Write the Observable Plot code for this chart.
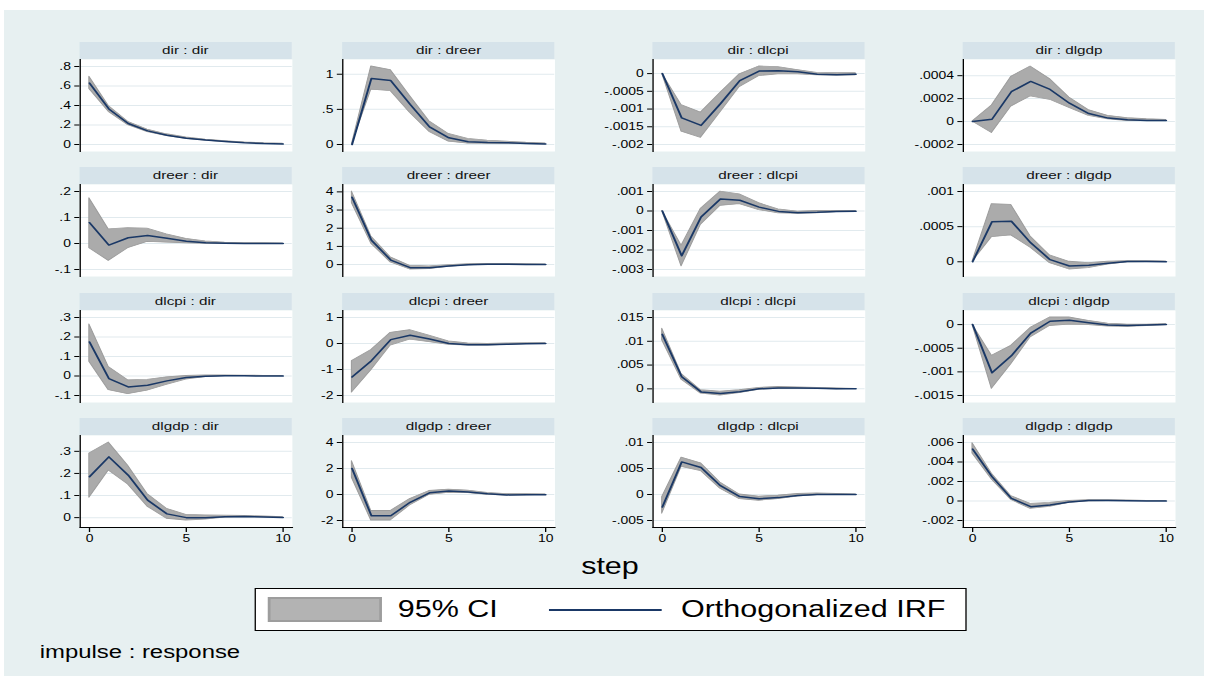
<!DOCTYPE html>
<html>
<head>
<meta charset="utf-8">
<script src="https://cdn.jsdelivr.net/npm/d3@7"></script>
<script src="https://cdn.jsdelivr.net/npm/@observablehq/plot@0.6"></script>
<style>
  html, body { margin: 0; padding: 0; background: #ffffff; overflow: hidden; }
  body { font-family: "Liberation Sans", Arial, sans-serif; color: #000; }
  #page { position: absolute; left: 0; top: 0; width: 911px; height: 683px; transform-origin: 0 0; }
  #bg { position: absolute; left: 3px; top: 9.5px; width: 905px; height: 666px; background: #e7f0f1; }
  .strip { position: absolute; height: 17px; line-height: 17px; background: #d6e3ea; text-align: center; font-size: 11.5px; color: #111; white-space: nowrap; }
  .panel { position: absolute; }
  .panel svg { display: block; overflow: visible; }
  #step { position: absolute; left: 360px; width: 200px; top: 553px; text-align: center; font-size: 23px; line-height: 26px; }
  #legend { position: absolute; left: 191.5px; top: 588px; width: 535px; height: 41px; border: 1.5px solid #000; background: #fff; }
  #legend .swatch { position: absolute; left: 9px; top: 8px; width: 82px; height: 21px; background: #b3b3b3; border: 2px solid #9d9d9d; }
  #legend .lbl { position: absolute; top: 0; height: 41px; line-height: 41px; font-size: 23px; white-space: nowrap; }
  #legend .line { position: absolute; left: 221.5px; top: 19.5px; width: 84.5px; height: 2px; background: #1a3866; }
  #note { position: absolute; left: 30px; top: 641px; font-size: 18px; line-height: 22px; white-space: nowrap; }
</style>
</head>
<body>
<div id="page">
  <div id="bg"></div>
  <div id="step">step</div>
  <div id="legend">
    <div class="swatch"></div>
    <div class="lbl" style="left:107.5px">95% CI</div>
    <div class="line"></div>
    <div class="lbl" style="left:321px">Orthogonalized IRF</div>
  </div>
  <div id="note">impulse : response</div>
</div>
<script>
// ---------------- data ----------------
const variables = ["dir", "dreer", "dlcpi", "dlgdp"];
const steps = [0, 1, 2, 3, 4, 5, 6, 7, 8, 9, 10];

// panel titles, row = impulse, column = response
const panelTitles = [
  "dir : dir", "dir : dreer", "dir : dlcpi", "dir : dlgdp",
  "dreer : dir", "dreer : dreer", "dreer : dlcpi", "dreer : dlgdp",
  "dlcpi : dir", "dlcpi : dreer", "dlcpi : dlcpi", "dlcpi : dlgdp",
  "dlgdp : dir", "dlgdp : dreer", "dlgdp : dlcpi", "dlgdp : dlgdp"
];

// Orthogonalized IRF, steps 0..10
const irfValues = [
  [0.63, 0.365, 0.215, 0.14, 0.095, 0.065, 0.045, 0.03, 0.018, 0.01, 0.006],
  [0, 0.94, 0.91, 0.57, 0.25, 0.095, 0.04, 0.03, 0.025, 0.015, 0.008],
  [0, -0.00125, -0.00146, -0.00085, -0.0002, 0.00007, 0.00008, 0.00005, -0.00002, -0.00003, -0.00002],
  [0, 0.00002, 0.00026, 0.00035, 0.00028, 0.00016, 0.00007, 0.00003, 0.000015, 0.00001, 0.00001],
  [0.08, -0.006, 0.022, 0.031, 0.02, 0.009, 0.003, 0.001, 0, 0, 0],
  [3.7, 1.34, 0.25, -0.17, -0.17, -0.08, -0.01, 0.02, 0.02, 0.01, 0],
  [0, -0.0023, -0.00031, 0.00062, 0.00055, 0.0002, -0.00002, -0.00009, -0.00007, -0.00003, -0.00001],
  [0, 0.00057, 0.000577, 0.00027, 0.00003, -0.00006, -0.00005, -0.00002, 0.000005, 0.000005, 0],
  [0.174, -0.013, -0.056, -0.047, -0.025, -0.008, -0.001, 0.001, 0.001, 0, 0],
  [-1.29, -0.66, 0.15, 0.32, 0.17, 0, -0.05, -0.05, -0.03, -0.01, 0],
  [0.01145, 0.00256, -0.00064, -0.001, -0.0006, 0, 0.0002, 0.0002, 0.0001, 0, 0],
  [0, -0.00102, -0.00066, -0.00018, 0.00007, 0.00009, 0.00004, -0.00001, -0.00002, -0.00001, 0],
  [0.185, 0.275, 0.192, 0.079, 0.017, 0, -0.001, 0.004, 0.005, 0.003, 0.001],
  [2.0, -1.64, -1.64, -0.6, 0.13, 0.26, 0.2, 0.05, -0.03, -0.02, -0.01],
  [-0.0024, 0.00627, 0.0052, 0.0017, -0.0004, -0.0008, -0.0006, -0.0002, 0, 0, 0],
  [0.00532, 0.0025, 0.00027, -0.00058, -0.0004, -0.0001, 0.00005, 0.00005, 0.00003, 0, 0]
];

// 95% CI lower bound
const ciLower = [
  [0.57, 0.335, 0.198, 0.127, 0.086, 0.058, 0.039, 0.025, 0.015, 0.008, 0.004],
  [0, 0.78, 0.76, 0.45, 0.18, 0.04, 0.012, 0.01, 0.01, 0.005, 0.002],
  [0, -0.00164, -0.00181, -0.0011, -0.00038, -0.00007, -0.00002, -0.00002, -0.00005, -0.00006, -0.00005],
  [0, -0.0001, 0.00013, 0.00022, 0.00019, 0.00012, 0.00005, 0.00002, 0.000005, 0.000005, 0.000005],
  [-0.018, -0.067, -0.018, 0.006, 0.003, 0.001, -0.001, -0.001, -0.001, 0, 0],
  [3.38, 1.15, 0.12, -0.27, -0.25, -0.13, -0.04, 0, 0, 0, -0.01],
  [0, -0.00284, -0.0007, 0.00026, 0.00035, 0.00005, -0.00012, -0.00014, -0.00012, -0.00006, -0.00003],
  [0, 0.00035, 0.000375, 0.0002, -0.00002, -0.00011, -0.00009, -0.00004, -0.00001, -0.000005, -0.000005],
  [0.073, -0.073, -0.093, -0.075, -0.045, -0.018, -0.006, -0.001, -0.001, -0.001, 0],
  [-1.89, -1.03, -0.08, 0.15, 0.05, -0.05, -0.08, -0.08, -0.05, -0.02, -0.01],
  [0.0102, 0.0019, -0.001, -0.0014, -0.0009, -0.0002, 0, 0, 0, -0.0001, 0],
  [0, -0.00136, -0.00084, -0.00027, -0.00003, 0, -0.00001, -0.00004, -0.00005, -0.00003, -0.00001],
  [0.09, 0.213, 0.15, 0.05, -0.005, -0.013, -0.009, 0, 0.002, 0.001, 0],
  [1.27, -2.0, -2.0, -0.85, -0.03, 0.12, 0.1, -0.03, -0.09, -0.06, -0.03],
  [-0.0037, 0.0053, 0.0045, 0.0011, -0.0009, -0.0012, -0.0009, -0.0004, -0.0001, -0.0001, -0.0001],
  [0.00487, 0.0022, 0.0001, -0.0008, -0.0006, -0.0002, -0.00003, 0, 0, 0, 0]
];

// 95% CI upper bound
const ciUpper = [
  [0.695, 0.395, 0.233, 0.153, 0.105, 0.073, 0.051, 0.035, 0.022, 0.013, 0.008],
  [0, 1.11, 1.06, 0.69, 0.33, 0.15, 0.08, 0.055, 0.04, 0.025, 0.015],
  [0, -0.00089, -0.0011, -0.00055, -0.00002, 0.0002, 0.00018, 0.0001, 0.00002, 0.00001, 0.00001],
  [0, 0.00014, 0.00039, 0.00048, 0.00037, 0.00021, 0.0001, 0.00005, 0.00003, 0.00002, 0.000015],
  [0.174, 0.054, 0.059, 0.057, 0.035, 0.018, 0.008, 0.003, 0.001, 0.001, 0],
  [4.02, 1.55, 0.4, -0.07, -0.1, -0.03, 0.02, 0.04, 0.04, 0.02, 0.01],
  [0, -0.00178, 0.00012, 0.00099, 0.00085, 0.0004, 0.00008, -0.00003, 0, 0, 0],
  [0, 0.00082, 0.00081, 0.00036, 0.00009, 0, -0.00002, 0, 0.00001, 0.00001, 0.000005],
  [0.265, 0.046, -0.022, -0.02, -0.007, 0, 0.003, 0.003, 0.002, 0.001, 0],
  [-0.68, -0.25, 0.41, 0.51, 0.3, 0.08, 0, -0.02, 0, 0.01, 0.01],
  [0.01266, 0.0031, -0.0003, -0.0006, -0.0003, 0.0002, 0.0004, 0.0003, 0.0002, 0.0001, 0],
  [0, -0.00066, -0.00045, -0.00007, 0.00015, 0.00015, 0.00008, 0.00002, 0, 0, 0.00001],
  [0.29, 0.34, 0.235, 0.107, 0.04, 0.012, 0.01, 0.009, 0.008, 0.005, 0.002],
  [2.57, -1.27, -1.27, -0.35, 0.27, 0.38, 0.3, 0.12, 0.03, 0.03, 0.01],
  [-0.0005, 0.0071, 0.006, 0.0023, 0, -0.0004, -0.0002, 0.0001, 0.0002, 0.0001, 0],
  [0.00594, 0.0028, 0.0005, -0.0003, -0.0002, 0, 0.0001, 0.0001, 0.00005, 0, 0]
];

// y tick values per panel
const yTicks = [
  [0, 0.2, 0.4, 0.6, 0.8],
  [0, 0.5, 1],
  [-0.002, -0.0015, -0.001, -0.0005, 0],
  [-0.0002, 0, 0.0002, 0.0004],
  [-0.1, 0, 0.1, 0.2],
  [0, 1, 2, 3, 4],
  [-0.003, -0.002, -0.001, 0, 0.001],
  [0, 0.0005, 0.001],
  [-0.1, 0, 0.1, 0.2, 0.3],
  [-2, -1, 0, 1],
  [0, 0.005, 0.01, 0.015],
  [-0.0015, -0.001, -0.0005, 0],
  [0, 0.1, 0.2, 0.3],
  [-2, 0, 2, 4],
  [-0.005, 0, 0.005, 0.01],
  [-0.002, 0, 0.002, 0.004, 0.006]
];
const xTicks = [0, 5, 10];

// ---------------- layout ----------------
const STRETCH = 1208 / 911;          // reference is drawn horizontally stretched
const colX = [59.8, 258.3, 491.7, 726.2];
const rowY = [42, 167.3, 292.6, 418];
const STRIP_H = 17, PLOT_W = 160, PLOT_H = 92, ML = 50, MB = 24;
const FONT = "'Liberation Sans', Arial, sans-serif";

const page = document.getElementById("page");
page.style.transform = `scaleX(${STRETCH})`;

const fmt = v => {
  if (v === 0) return "0";
  return String(v).replace(/^(-?)0\./, "$1.");
};

panelTitles.forEach((title, i) => {
  const r = Math.floor(i / 4), c = i % 4;
  const last = r === 3;
  const rows = steps.map((s, k) => ({step: s, irf: irfValues[i][k], lo: ciLower[i][k], hi: ciUpper[i][k]}));
  const ticks = yTicks[i];
  const yMin = Math.min(d3.min(ticks), d3.min(ciLower[i]), d3.min(irfValues[i]));
  const yMax = Math.max(d3.max(ticks), d3.max(ciUpper[i]), d3.max(irfValues[i]));

  const strip = document.createElement("div");
  strip.className = "strip";
  strip.style.left = colX[c] + "px";
  strip.style.top = rowY[r] + "px";
  strip.style.width = PLOT_W + "px";
  strip.textContent = title;
  page.appendChild(strip);

  const chart = Plot.plot({
    width: ML + PLOT_W,
    height: PLOT_H + (last ? MB : 0),
    marginLeft: ML, marginRight: 0, marginTop: 0, marginBottom: last ? MB : 0,
    style: {fontFamily: FONT, fontSize: "10.5px", color: "#000", background: "transparent", overflow: "visible"},
    x: {domain: [0, 10], inset: 7, axis: last ? "bottom" : null, ticks: xTicks, tickSize: 5, tickPadding: 2, label: null, tickFormat: d => String(d)},
    y: {domain: [yMin, yMax], inset: 7, ticks: ticks, tickSize: 4, tickPadding: 3, tickFormat: fmt, label: null},
    marks: [
      Plot.frame({fill: "#ffffff", stroke: null}),
      Plot.gridY(ticks, {stroke: "#e1eaee", strokeOpacity: 1, strokeWidth: 1}),
      Plot.areaY(rows, {x: "step", y1: "lo", y2: "hi", fill: "#ababab", fillOpacity: 1, stroke: "#9c9c9c", strokeWidth: 0.8}),
      Plot.lineY(rows, {x: "step", y: "irf", stroke: "#1a3866", strokeWidth: 1.5}),
      Plot.frame({anchor: "left", stroke: "#000", strokeWidth: 1}),
      last ? Plot.frame({anchor: "bottom", stroke: "#000", strokeWidth: 1}) : null
    ]
  });

  const wrap = document.createElement("div");
  wrap.className = "panel";
  wrap.style.left = (colX[c] - ML) + "px";
  wrap.style.top = (rowY[r] + STRIP_H) + "px";
  wrap.appendChild(chart);
  page.appendChild(wrap);
});
</script>
</body>
</html>
